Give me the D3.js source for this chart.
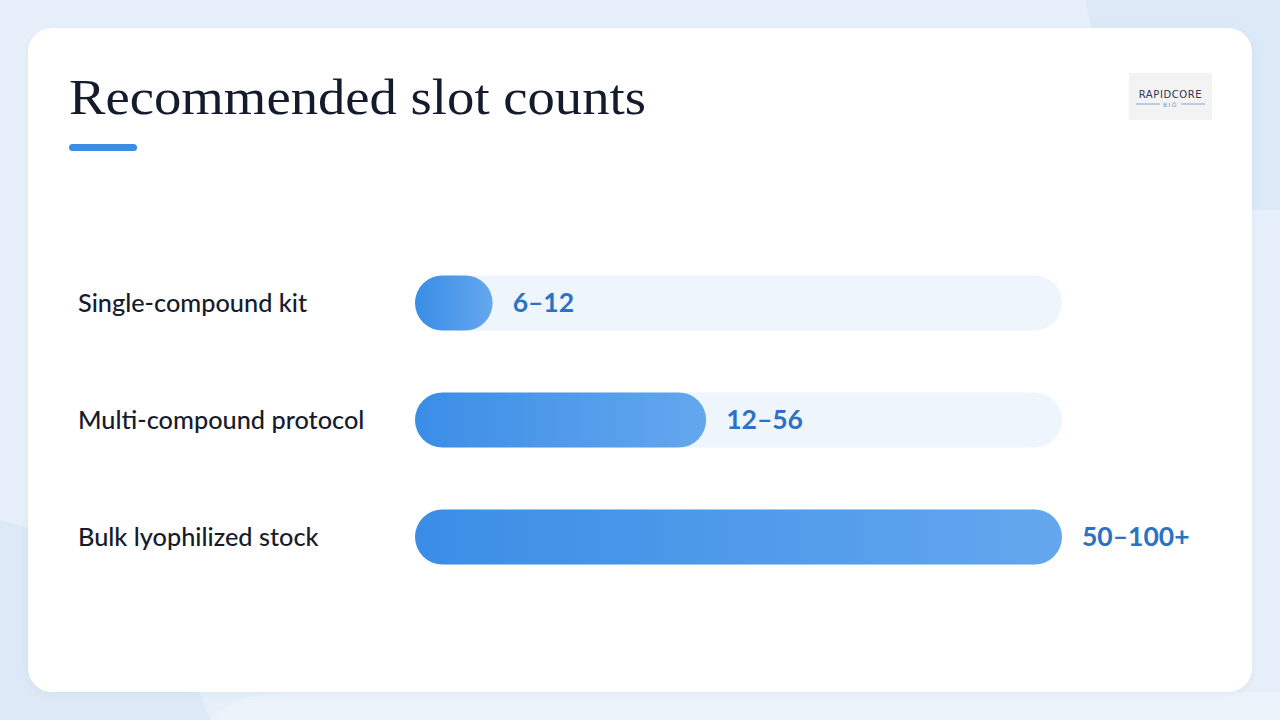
<!DOCTYPE html>
<html><head><meta charset="utf-8">
<script src="https://cdn.jsdelivr.net/npm/d3@7"></script>
<style>html,body{margin:0;padding:0;background:#e7f0fa;}svg{display:block;}</style>
</head><body>
<script>
const title = "Recommended slot counts";
const categories = ["Single-compound kit", "Multi-compound protocol", "Bulk lyophilized stock"];
const valueLabels = ["6–12", "12–56", "50–100+"];
const barValues = [12, 45, 100];
const domainMax = 100;

const W = 1280, H = 720;
const svg = d3.select("body").append("svg").attr("width", W).attr("height", H);
const defs = svg.append("defs");

// background
svg.append("rect").attr("width", W).attr("height", H).attr("fill", "#e7f0fa");
svg.append("path").attr("d", "M1085,0 C1100,60 1110,140 1130,210 L1280,210 L1280,0 Z").attr("fill", "#dce9f7");
svg.append("path").attr("d", "M0,520 C80,540 160,580 210,720 L0,720 Z").attr("fill", "#dde9f6");
svg.append("path").attr("d", "M210,720 C230,700 250,695 280,692 L1280,692 L1280,720 Z").attr("fill", "#edf3fb");

const sh = defs.append("filter").attr("id", "sh").attr("x", "-5%").attr("y", "-5%").attr("width", "110%").attr("height", "110%");
sh.append("feDropShadow").attr("dx", 0).attr("dy", 2).attr("stdDeviation", 4).attr("flood-color", "#8aa8c8").attr("flood-opacity", 0.15);

svg.append("rect").attr("x", 28).attr("y", 28).attr("width", 1224).attr("height", 664)
  .attr("rx", 24).attr("fill", "#ffffff").attr("filter", "url(#sh)");

// title
svg.append("text").attr("x", 69).attr("y", 114).text(title)
  .attr("font-family", "'Liberation Serif', 'DejaVu Serif', serif")
  .attr("font-size", 50).attr("fill", "#141b2d").attr("textLength", 577).attr("lengthAdjust", "spacingAndGlyphs");
svg.append("rect").attr("x", 69).attr("y", 144).attr("width", 68).attr("height", 7).attr("rx", 3.5).attr("fill", "#3a8ee6");

// logo
const lg = svg.append("g");
lg.append("rect").attr("x", 1129).attr("y", 73).attr("width", 83).attr("height", 47).attr("fill", "#f3f3f4");
lg.append("text").attr("x", 1170.5).attr("y", 98).attr("text-anchor", "middle").text("RAPIDCORE")
  .attr("font-family", "'DejaVu Sans', sans-serif").attr("font-size", 10).attr("fill", "#2a3550").attr("letter-spacing", 0.6);
lg.append("line").attr("x1", 1136).attr("x2", 1160).attr("y1", 104).attr("y2", 104).attr("stroke", "#6d8fd0").attr("stroke-width", 0.8);
lg.append("line").attr("x1", 1181).attr("x2", 1205).attr("y1", 104).attr("y2", 104).attr("stroke", "#6d8fd0").attr("stroke-width", 0.8);
lg.append("text").attr("x", 1170.5).attr("y", 106.5).attr("text-anchor", "middle").text("BIO")
  .attr("font-family", "'DejaVu Sans', sans-serif").attr("font-size", 6).attr("fill", "#6d8fd0").attr("letter-spacing", 1.5);

// scales
const x = d3.scaleLinear().domain([0, domainMax]).range([415, 1062]);
const y = d3.scaleBand().domain(categories).range([244.5, 595.5]).paddingInner(0.5).paddingOuter(0.25);
const bh = 55;

const grad = defs.append("linearGradient").attr("id", "bg").attr("x1", "0%").attr("x2", "100%");
grad.append("stop").attr("offset", "0%").attr("stop-color", "#3a8de6");
grad.append("stop").attr("offset", "100%").attr("stop-color", "#64a7ee");

const rows = svg.selectAll("g.row").data(categories).join("g").attr("class", "row");
rows.each(function(c, i) {
  const g = d3.select(this);
  const cy = y(c) + y.bandwidth() / 2;
  g.append("text").attr("x", 78).attr("y", cy + 9).text(c)
    .attr("font-family", "Lato, 'Open Sans', sans-serif").attr("font-weight", 500)
    .attr("font-size", 25.3).attr("fill", "#161c2c");
  g.append("rect").attr("x", x(0)).attr("y", cy - bh / 2).attr("width", x(domainMax) - x(0)).attr("height", bh)
    .attr("rx", bh / 2).attr("fill", "#eef5fd");
  g.append("rect").attr("x", x(0)).attr("y", cy - bh / 2).attr("width", x(barValues[i]) - x(0)).attr("height", bh)
    .attr("rx", bh / 2).attr("fill", "url(#bg)");
  g.append("text").attr("x", x(barValues[i]) + 20).attr("y", cy + 9).text(valueLabels[i])
    .attr("font-family", "Lato, 'Open Sans', sans-serif").attr("font-weight", 700)
    .attr("font-size", 26.5).attr("fill", "#2a72c4");
});
</script>
</body></html>
